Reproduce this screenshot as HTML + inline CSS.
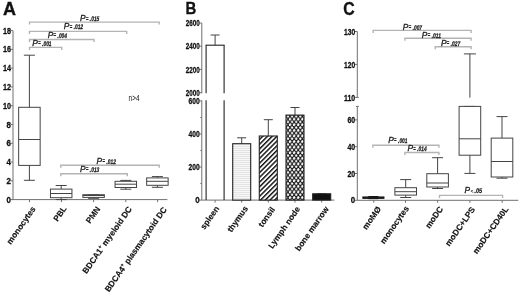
<!DOCTYPE html><html><head><meta charset="utf-8"><style>html,body{margin:0;padding:0;background:#fff;}svg{display:block;will-change:transform;}text{font-family:"Liberation Sans",sans-serif;}</style></head><body>
<svg width="520" height="293" viewBox="0 0 520 293">
<defs><pattern id="hl" patternUnits="userSpaceOnUse" width="4" height="2"><rect width="4" height="2" fill="#f7f7f7"/><rect y="0" width="4" height="0.7" fill="#dcdcdc"/></pattern><pattern id="dg" patternUnits="userSpaceOnUse" width="3.35" height="3.35" patternTransform="rotate(45)"><rect width="3.35" height="3.35" fill="#fff"/><rect width="1.45" height="3.35" fill="#111"/></pattern><pattern id="xh" patternUnits="userSpaceOnUse" width="4.1" height="5.6" patternTransform="translate(2.05,0)"><rect width="4.1" height="5.6" fill="#111"/><polygon points="1.00,-0.30 2.45,1.45 1.00,3.20 -0.45,1.45" fill="#fff"/><polygon points="5.10,-0.30 6.55,1.45 5.10,3.20 3.65,1.45" fill="#fff"/><polygon points="3.05,2.60 4.50,4.35 3.05,6.10 1.60,4.35" fill="#fff"/><polygon points="-1.05,2.60 0.40,4.35 -1.05,6.10 -2.50,4.35" fill="#fff"/><polygon points="3.05,-3.20 4.50,-1.45 3.05,0.30 1.60,-1.45" fill="#fff"/><polygon points="-1.05,-3.20 0.40,-1.45 -1.05,0.30 -2.50,-1.45" fill="#fff"/><polygon points="1.00,5.50 2.45,7.25 1.00,9.00 -0.45,7.25" fill="#fff"/><polygon points="5.10,5.50 6.55,7.25 5.10,9.00 3.65,7.25" fill="#fff"/></pattern></defs>
<text x="3" y="14.6" font-size="18" font-weight="bold" text-anchor="start" fill="#111" stroke="#111" stroke-width="0.35">A</text>
<line x1="13.0" y1="30.6" x2="13.0" y2="199.6" stroke="#707070" stroke-width="1"/>
<line x1="10.5" y1="199.6" x2="13.0" y2="199.6" stroke="#707070" stroke-width="1"/>
<text x="10.9" y="202.7" font-size="9.0" font-weight="bold" text-anchor="end" fill="#111" textLength="4.4" lengthAdjust="spacingAndGlyphs" stroke="#111" stroke-width="0.3">0</text>
<line x1="10.5" y1="180.82" x2="13.0" y2="180.82" stroke="#707070" stroke-width="1"/>
<text x="10.9" y="183.92" font-size="9.0" font-weight="bold" text-anchor="end" fill="#111" textLength="4.4" lengthAdjust="spacingAndGlyphs" stroke="#111" stroke-width="0.3">2</text>
<line x1="10.5" y1="162.04" x2="13.0" y2="162.04" stroke="#707070" stroke-width="1"/>
<text x="10.9" y="165.14" font-size="9.0" font-weight="bold" text-anchor="end" fill="#111" textLength="4.4" lengthAdjust="spacingAndGlyphs" stroke="#111" stroke-width="0.3">4</text>
<line x1="10.5" y1="143.26" x2="13.0" y2="143.26" stroke="#707070" stroke-width="1"/>
<text x="10.9" y="146.35999999999999" font-size="9.0" font-weight="bold" text-anchor="end" fill="#111" textLength="4.4" lengthAdjust="spacingAndGlyphs" stroke="#111" stroke-width="0.3">6</text>
<line x1="10.5" y1="124.48" x2="13.0" y2="124.48" stroke="#707070" stroke-width="1"/>
<text x="10.9" y="127.58" font-size="9.0" font-weight="bold" text-anchor="end" fill="#111" textLength="4.4" lengthAdjust="spacingAndGlyphs" stroke="#111" stroke-width="0.3">8</text>
<line x1="10.5" y1="105.7" x2="13.0" y2="105.7" stroke="#707070" stroke-width="1"/>
<text x="10.9" y="108.8" font-size="9.0" font-weight="bold" text-anchor="end" fill="#111" textLength="8.0" lengthAdjust="spacingAndGlyphs" stroke="#111" stroke-width="0.3">10</text>
<line x1="10.5" y1="86.92" x2="13.0" y2="86.92" stroke="#707070" stroke-width="1"/>
<text x="10.9" y="90.02" font-size="9.0" font-weight="bold" text-anchor="end" fill="#111" textLength="8.0" lengthAdjust="spacingAndGlyphs" stroke="#111" stroke-width="0.3">12</text>
<line x1="10.5" y1="68.14" x2="13.0" y2="68.14" stroke="#707070" stroke-width="1"/>
<text x="10.9" y="71.24" font-size="9.0" font-weight="bold" text-anchor="end" fill="#111" textLength="8.0" lengthAdjust="spacingAndGlyphs" stroke="#111" stroke-width="0.3">14</text>
<line x1="10.5" y1="49.36" x2="13.0" y2="49.36" stroke="#707070" stroke-width="1"/>
<text x="10.9" y="52.46" font-size="9.0" font-weight="bold" text-anchor="end" fill="#111" textLength="8.0" lengthAdjust="spacingAndGlyphs" stroke="#111" stroke-width="0.3">16</text>
<line x1="10.5" y1="30.58" x2="13.0" y2="30.58" stroke="#707070" stroke-width="1"/>
<text x="10.9" y="33.68" font-size="9.0" font-weight="bold" text-anchor="end" fill="#111" textLength="8.0" lengthAdjust="spacingAndGlyphs" stroke="#111" stroke-width="0.3">18</text>
<line x1="13.0" y1="199.6" x2="167.4" y2="199.6" stroke="#707070" stroke-width="1"/>
<line x1="29.5" y1="199.6" x2="29.5" y2="202.1" stroke="#707070" stroke-width="1"/>
<line x1="61.5" y1="199.6" x2="61.5" y2="202.1" stroke="#707070" stroke-width="1"/>
<line x1="93.6" y1="199.6" x2="93.6" y2="202.1" stroke="#707070" stroke-width="1"/>
<line x1="125.8" y1="199.6" x2="125.8" y2="202.1" stroke="#707070" stroke-width="1"/>
<line x1="157.6" y1="199.6" x2="157.6" y2="202.1" stroke="#707070" stroke-width="1"/>
<line x1="29.4" y1="55.2" x2="29.4" y2="107.3" stroke="#444" stroke-width="1"/>
<line x1="23.9" y1="55.2" x2="34.9" y2="55.2" stroke="#444" stroke-width="1"/>
<line x1="29.4" y1="165.4" x2="29.4" y2="180.3" stroke="#444" stroke-width="1"/>
<line x1="23.9" y1="180.3" x2="34.9" y2="180.3" stroke="#444" stroke-width="1"/>
<rect x="18.65" y="107.3" width="21.5" height="58.10000000000001" fill="#fff" stroke="#444" stroke-width="1"/>
<line x1="18.65" y1="139.5" x2="40.15" y2="139.5" stroke="#444" stroke-width="1"/>
<line x1="61.2" y1="185.5" x2="61.2" y2="189.1" stroke="#444" stroke-width="1"/>
<line x1="55.7" y1="185.5" x2="66.7" y2="185.5" stroke="#444" stroke-width="1"/>
<line x1="61.2" y1="197.7" x2="61.2" y2="199.6" stroke="#444" stroke-width="1"/>
<line x1="55.7" y1="199.6" x2="66.7" y2="199.6" stroke="#444" stroke-width="1"/>
<rect x="50.45" y="189.1" width="21.5" height="8.599999999999994" fill="#fff" stroke="#444" stroke-width="1"/>
<line x1="50.45" y1="193.5" x2="71.95" y2="193.5" stroke="#444" stroke-width="1"/>
<line x1="93.6" y1="194.7" x2="93.6" y2="194.7" stroke="#444" stroke-width="1"/>
<line x1="88.1" y1="194.7" x2="99.1" y2="194.7" stroke="#444" stroke-width="1"/>
<line x1="93.6" y1="197.4" x2="93.6" y2="198.3" stroke="#444" stroke-width="1"/>
<line x1="88.1" y1="198.3" x2="99.1" y2="198.3" stroke="#444" stroke-width="1"/>
<rect x="82.85" y="194.7" width="21.5" height="2.700000000000017" fill="#fff" stroke="#444" stroke-width="1"/>
<line x1="82.85" y1="195.5" x2="104.35" y2="195.5" stroke="#444" stroke-width="1"/>
<line x1="125.8" y1="180.4" x2="125.8" y2="181.3" stroke="#444" stroke-width="1"/>
<line x1="120.3" y1="180.4" x2="131.3" y2="180.4" stroke="#444" stroke-width="1"/>
<line x1="125.8" y1="187.5" x2="125.8" y2="189.2" stroke="#444" stroke-width="1"/>
<line x1="120.3" y1="189.2" x2="131.3" y2="189.2" stroke="#444" stroke-width="1"/>
<rect x="115.05" y="181.3" width="21.5" height="6.199999999999989" fill="#fff" stroke="#444" stroke-width="1"/>
<line x1="115.05" y1="184.2" x2="136.55" y2="184.2" stroke="#444" stroke-width="1"/>
<line x1="157.4" y1="176.6" x2="157.4" y2="177.9" stroke="#444" stroke-width="1"/>
<line x1="151.9" y1="176.6" x2="162.9" y2="176.6" stroke="#444" stroke-width="1"/>
<line x1="157.4" y1="185.3" x2="157.4" y2="187.3" stroke="#444" stroke-width="1"/>
<line x1="151.9" y1="187.3" x2="162.9" y2="187.3" stroke="#444" stroke-width="1"/>
<rect x="146.65" y="177.9" width="21.5" height="7.400000000000006" fill="#fff" stroke="#444" stroke-width="1"/>
<line x1="146.65" y1="181.3" x2="168.15" y2="181.3" stroke="#444" stroke-width="1"/>
<polyline points="29.5,24.6 29.5,22.1 159.2,22.1 159.2,24.6" fill="none" stroke="#b4b4b4" stroke-width="1.4"/>
<polyline points="29.5,33.9 29.5,31.4 126.7,31.4 126.7,33.9" fill="none" stroke="#b4b4b4" stroke-width="1.4"/>
<polyline points="29.5,42.0 29.5,39.5 94.0,39.5 94.0,42.0" fill="none" stroke="#b4b4b4" stroke-width="1.4"/>
<polyline points="29.5,49.9 29.5,47.4 61.8,47.4 61.8,49.9" fill="none" stroke="#b4b4b4" stroke-width="1.4"/>
<polyline points="60.8,167.8 60.8,165.3 159.2,165.3 159.2,167.8" fill="none" stroke="#b4b4b4" stroke-width="1.4"/>
<polyline points="60.8,176.3 60.8,173.8 127.3,173.8 127.3,176.3" fill="none" stroke="#b4b4b4" stroke-width="1.4"/>
<text x="80.0" y="21.1" fill="#1a1a1a" stroke="#1a1a1a" stroke-width="0.3"><tspan font-size="8.3" font-style="italic">P</tspan></text>
<text x="85.9" y="20.6" fill="#222" font-size="7.0" font-weight="bold" stroke="#222" stroke-width="0.2" textLength="2.5" lengthAdjust="spacingAndGlyphs">=</text>
<text x="0" y="0" transform="translate(89.60,21.10) skewX(-8)" fill="#1a1a1a" stroke="#1a1a1a" stroke-width="0.25" font-size="6.7" font-weight="bold" textLength="9.4" lengthAdjust="spacingAndGlyphs">.015</text>
<text x="63.8" y="29.3" fill="#1a1a1a" stroke="#1a1a1a" stroke-width="0.3"><tspan font-size="8.3" font-style="italic">P</tspan></text>
<text x="69.7" y="28.8" fill="#222" font-size="7.0" font-weight="bold" stroke="#222" stroke-width="0.2" textLength="2.5" lengthAdjust="spacingAndGlyphs">=</text>
<text x="0" y="0" transform="translate(73.40,29.30) skewX(-8)" fill="#1a1a1a" stroke="#1a1a1a" stroke-width="0.25" font-size="6.7" font-weight="bold" textLength="9.4" lengthAdjust="spacingAndGlyphs">.012</text>
<text x="47.7" y="37.800000000000004" fill="#1a1a1a" stroke="#1a1a1a" stroke-width="0.3"><tspan font-size="8.3" font-style="italic">P</tspan></text>
<text x="53.6" y="37.300000000000004" fill="#222" font-size="7.0" font-weight="bold" stroke="#222" stroke-width="0.2" textLength="2.5" lengthAdjust="spacingAndGlyphs">=</text>
<text x="0" y="0" transform="translate(57.30,37.80) skewX(-8)" fill="#1a1a1a" stroke="#1a1a1a" stroke-width="0.25" font-size="6.7" font-weight="bold" textLength="9.4" lengthAdjust="spacingAndGlyphs">.004</text>
<text x="32.3" y="45.5" fill="#1a1a1a" stroke="#1a1a1a" stroke-width="0.3"><tspan font-size="8.3" font-style="italic">P</tspan></text>
<text x="38.199999999999996" y="45.0" fill="#222" font-size="7.0" font-weight="bold" stroke="#222" stroke-width="0.2" textLength="2.5" lengthAdjust="spacingAndGlyphs">=</text>
<text x="0" y="0" transform="translate(41.90,45.50) skewX(-8)" fill="#1a1a1a" stroke="#1a1a1a" stroke-width="0.25" font-size="6.7" font-weight="bold" textLength="9.4" lengthAdjust="spacingAndGlyphs">.001</text>
<text x="96.6" y="163.6" fill="#1a1a1a" stroke="#1a1a1a" stroke-width="0.3"><tspan font-size="8.3" font-style="italic">P</tspan></text>
<text x="102.5" y="163.1" fill="#222" font-size="7.0" font-weight="bold" stroke="#222" stroke-width="0.2" textLength="2.5" lengthAdjust="spacingAndGlyphs">=</text>
<text x="0" y="0" transform="translate(106.20,163.60) skewX(-8)" fill="#1a1a1a" stroke="#1a1a1a" stroke-width="0.25" font-size="6.7" font-weight="bold" textLength="9.4" lengthAdjust="spacingAndGlyphs">.012</text>
<text x="80.0" y="171.9" fill="#1a1a1a" stroke="#1a1a1a" stroke-width="0.3"><tspan font-size="8.3" font-style="italic">P</tspan></text>
<text x="85.9" y="171.4" fill="#222" font-size="7.0" font-weight="bold" stroke="#222" stroke-width="0.2" textLength="2.5" lengthAdjust="spacingAndGlyphs">=</text>
<text x="0" y="0" transform="translate(89.60,171.90) skewX(-8)" fill="#1a1a1a" stroke="#1a1a1a" stroke-width="0.25" font-size="6.7" font-weight="bold" textLength="9.4" lengthAdjust="spacingAndGlyphs">.013</text>
<text x="128.6" y="101.0" font-size="9.0" font-weight="normal" text-anchor="start" fill="#111" textLength="10.9" lengthAdjust="spacingAndGlyphs">n&gt;4</text>
<text x="36.0" y="209.0" font-size="8.3" font-weight="bold" text-anchor="end" fill="#111" transform="rotate(-55 36.0 209.0)" stroke="#111" stroke-width="0.15">monocytes</text>
<text x="67.0" y="208.5" font-size="8.3" font-weight="bold" text-anchor="end" fill="#111" transform="rotate(-55 67.0 208.5)" stroke="#111" stroke-width="0.15">PBL</text>
<text x="100.6" y="209.0" font-size="8.3" font-weight="bold" text-anchor="end" fill="#111" transform="rotate(-55 100.6 209.0)" stroke="#111" stroke-width="0.15">PMN</text>
<text x="132.3" y="209.0" font-size="8.3" font-weight="bold" text-anchor="end" fill="#111" transform="rotate(-55 132.3 209.0)" stroke="#111" stroke-width="0.15">BDCA1<tspan font-size="5.5" dy="-3">+</tspan><tspan dy="3"> myeloid DC</tspan></text>
<text x="167.1" y="209.5" font-size="8.3" font-weight="bold" text-anchor="end" fill="#111" transform="rotate(-55 167.1 209.5)" stroke="#111" stroke-width="0.15">BDCA4<tspan font-size="5.5" dy="-3">+</tspan><tspan dy="3"> plasmacytoid DC</tspan></text>
<text x="185.6" y="14.1" font-size="17.4" font-weight="bold" text-anchor="start" fill="#111" textLength="10.8" lengthAdjust="spacingAndGlyphs" stroke="#111" stroke-width="0.35">B</text>
<line x1="201.8" y1="23.0" x2="201.8" y2="93.4" stroke="#707070" stroke-width="1"/>
<line x1="199.3" y1="23.0" x2="201.8" y2="23.0" stroke="#707070" stroke-width="1"/>
<text x="199.70000000000002" y="26.1" font-size="9.0" font-weight="bold" text-anchor="end" fill="#111" textLength="14.0" lengthAdjust="spacingAndGlyphs" stroke="#111" stroke-width="0.3">2600</text>
<line x1="199.3" y1="46.2" x2="201.8" y2="46.2" stroke="#707070" stroke-width="1"/>
<text x="199.70000000000002" y="49.300000000000004" font-size="9.0" font-weight="bold" text-anchor="end" fill="#111" textLength="14.0" lengthAdjust="spacingAndGlyphs" stroke="#111" stroke-width="0.3">2400</text>
<line x1="199.3" y1="69.4" x2="201.8" y2="69.4" stroke="#707070" stroke-width="1"/>
<text x="199.70000000000002" y="72.5" font-size="9.0" font-weight="bold" text-anchor="end" fill="#111" textLength="14.0" lengthAdjust="spacingAndGlyphs" stroke="#111" stroke-width="0.3">2200</text>
<line x1="199.3" y1="92.7" x2="201.8" y2="92.7" stroke="#707070" stroke-width="1"/>
<text x="199.70000000000002" y="95.8" font-size="9.0" font-weight="bold" text-anchor="end" fill="#111" textLength="14.0" lengthAdjust="spacingAndGlyphs" stroke="#111" stroke-width="0.3">2000</text>
<line x1="201.8" y1="100.3" x2="201.8" y2="200.1" stroke="#707070" stroke-width="1"/>
<line x1="199.3" y1="200.1" x2="201.8" y2="200.1" stroke="#707070" stroke-width="1"/>
<text x="199.70000000000002" y="203.2" font-size="9.0" font-weight="bold" text-anchor="end" fill="#111" textLength="4.4" lengthAdjust="spacingAndGlyphs" stroke="#111" stroke-width="0.3">0</text>
<line x1="200.3" y1="183.58" x2="201.8" y2="183.58" stroke="#707070" stroke-width="1"/>
<line x1="199.3" y1="167.06" x2="201.8" y2="167.06" stroke="#707070" stroke-width="1"/>
<text x="199.70000000000002" y="170.16" font-size="9.0" font-weight="bold" text-anchor="end" fill="#111" textLength="11.2" lengthAdjust="spacingAndGlyphs" stroke="#111" stroke-width="0.3">200</text>
<line x1="200.3" y1="150.54" x2="201.8" y2="150.54" stroke="#707070" stroke-width="1"/>
<line x1="199.3" y1="134.02" x2="201.8" y2="134.02" stroke="#707070" stroke-width="1"/>
<text x="199.70000000000002" y="137.12" font-size="9.0" font-weight="bold" text-anchor="end" fill="#111" textLength="11.2" lengthAdjust="spacingAndGlyphs" stroke="#111" stroke-width="0.3">400</text>
<line x1="200.3" y1="117.5" x2="201.8" y2="117.5" stroke="#707070" stroke-width="1"/>
<line x1="199.3" y1="100.98" x2="201.8" y2="100.98" stroke="#707070" stroke-width="1"/>
<text x="199.70000000000002" y="104.08" font-size="9.0" font-weight="bold" text-anchor="end" fill="#111" textLength="11.2" lengthAdjust="spacingAndGlyphs" stroke="#111" stroke-width="0.3">600</text>
<line x1="201.8" y1="200.1" x2="334.4" y2="200.1" stroke="#707070" stroke-width="1"/>
<line x1="215.1" y1="200.1" x2="215.1" y2="202.6" stroke="#707070" stroke-width="1"/>
<line x1="241.7" y1="200.1" x2="241.7" y2="202.6" stroke="#707070" stroke-width="1"/>
<line x1="268.3" y1="200.1" x2="268.3" y2="202.6" stroke="#707070" stroke-width="1"/>
<line x1="295.0" y1="200.1" x2="295.0" y2="202.6" stroke="#707070" stroke-width="1"/>
<line x1="321.7" y1="200.1" x2="321.7" y2="202.6" stroke="#707070" stroke-width="1"/>
<rect x="206.1" y="45.2" width="18.0" height="48" fill="#fff" stroke="none"/>
<line x1="205.54999999999998" y1="45.2" x2="224.65" y2="45.2" stroke="#222" stroke-width="1.1"/>
<line x1="206.1" y1="45.2" x2="206.1" y2="93.2" stroke="#222" stroke-width="1.1"/>
<line x1="224.1" y1="45.2" x2="224.1" y2="93.2" stroke="#222" stroke-width="1.1"/>
<line x1="206.1" y1="100.3" x2="206.1" y2="200.1" stroke="#222" stroke-width="1.1"/>
<line x1="224.1" y1="100.3" x2="224.1" y2="200.1" stroke="#222" stroke-width="1.1"/>
<line x1="215.1" y1="35.0" x2="215.1" y2="45.2" stroke="#444" stroke-width="1"/>
<line x1="210.6" y1="35.0" x2="219.6" y2="35.0" stroke="#444" stroke-width="1"/>
<line x1="241.7" y1="137.8" x2="241.7" y2="143.7" stroke="#444" stroke-width="1"/>
<line x1="237.2" y1="137.8" x2="246.2" y2="137.8" stroke="#444" stroke-width="1"/>
<rect x="232.7" y="143.7" width="18.0" height="56.400000000000006" fill="url(#hl)" stroke="#222" stroke-width="1.1"/>
<line x1="268.3" y1="119.7" x2="268.3" y2="136.0" stroke="#444" stroke-width="1"/>
<line x1="263.8" y1="119.7" x2="272.8" y2="119.7" stroke="#444" stroke-width="1"/>
<rect x="259.3" y="136.0" width="18.0" height="64.1" fill="url(#dg)" stroke="#222" stroke-width="1.1"/>
<line x1="295.0" y1="107.5" x2="295.0" y2="115.1" stroke="#444" stroke-width="1"/>
<line x1="290.5" y1="107.5" x2="299.5" y2="107.5" stroke="#444" stroke-width="1"/>
<rect x="286.0" y="115.1" width="18.0" height="85.0" fill="url(#xh)" stroke="#222" stroke-width="1.1"/>
<line x1="321.7" y1="193.8" x2="321.7" y2="193.8" stroke="#444" stroke-width="1"/>
<line x1="317.2" y1="193.8" x2="326.2" y2="193.8" stroke="#444" stroke-width="1"/>
<rect x="312.7" y="193.8" width="18.0" height="6.299999999999983" fill="#111" stroke="#222" stroke-width="1.1"/>
<text x="219.6" y="208.5" font-size="8.3" font-weight="bold" text-anchor="end" fill="#111" transform="rotate(-55 219.6 208.5)" stroke="#111" stroke-width="0.15">spleen</text>
<text x="248.39999999999998" y="208.5" font-size="8.3" font-weight="bold" text-anchor="end" fill="#111" transform="rotate(-55 248.39999999999998 208.5)" stroke="#111" stroke-width="0.15">thymus</text>
<text x="275.3" y="209.5" font-size="8.3" font-weight="bold" text-anchor="end" fill="#111" transform="rotate(-55 275.3 209.5)" stroke="#111" stroke-width="0.15">tonsil</text>
<text x="300.5" y="209.0" font-size="8.3" font-weight="bold" text-anchor="end" fill="#111" transform="rotate(-55 300.5 209.0)" stroke="#111" stroke-width="0.15">Lymph node</text>
<text x="329.2" y="209.0" font-size="8.3" font-weight="bold" text-anchor="end" fill="#111" transform="rotate(-55 329.2 209.0)" stroke="#111" stroke-width="0.15">bone marrow</text>
<text x="343.2" y="14.6" font-size="18" font-weight="bold" text-anchor="start" fill="#111" textLength="11.4" lengthAdjust="spacingAndGlyphs" stroke="#111" stroke-width="0.35">C</text>
<line x1="357.3" y1="31.5" x2="357.3" y2="97.4" stroke="#707070" stroke-width="1"/>
<line x1="354.8" y1="31.5" x2="357.3" y2="31.5" stroke="#707070" stroke-width="1"/>
<text x="355.2" y="34.6" font-size="9.0" font-weight="bold" text-anchor="end" fill="#111" textLength="11.2" lengthAdjust="spacingAndGlyphs" stroke="#111" stroke-width="0.3">130</text>
<line x1="354.8" y1="64.4" x2="357.3" y2="64.4" stroke="#707070" stroke-width="1"/>
<text x="355.2" y="67.5" font-size="9.0" font-weight="bold" text-anchor="end" fill="#111" textLength="11.2" lengthAdjust="spacingAndGlyphs" stroke="#111" stroke-width="0.3">120</text>
<line x1="354.8" y1="97.4" x2="357.3" y2="97.4" stroke="#707070" stroke-width="1"/>
<text x="355.2" y="100.5" font-size="9.0" font-weight="bold" text-anchor="end" fill="#111" textLength="11.2" lengthAdjust="spacingAndGlyphs" stroke="#111" stroke-width="0.3">110</text>
<line x1="357.3" y1="106.4" x2="357.3" y2="200.3" stroke="#707070" stroke-width="1"/>
<line x1="355.90000000000003" y1="106.4" x2="358.90000000000003" y2="106.4" stroke="#707070" stroke-width="1"/>
<line x1="357.3" y1="97.4" x2="358.8" y2="97.4" stroke="#707070" stroke-width="1"/>
<line x1="354.8" y1="200.3" x2="357.3" y2="200.3" stroke="#707070" stroke-width="1"/>
<text x="355.2" y="203.4" font-size="9.0" font-weight="bold" text-anchor="end" fill="#111" textLength="4.4" lengthAdjust="spacingAndGlyphs" stroke="#111" stroke-width="0.3">0</text>
<line x1="354.8" y1="173.5" x2="357.3" y2="173.5" stroke="#707070" stroke-width="1"/>
<text x="355.2" y="176.6" font-size="9.0" font-weight="bold" text-anchor="end" fill="#111" textLength="7.8" lengthAdjust="spacingAndGlyphs" stroke="#111" stroke-width="0.3">20</text>
<line x1="354.8" y1="146.7" x2="357.3" y2="146.7" stroke="#707070" stroke-width="1"/>
<text x="355.2" y="149.79999999999998" font-size="9.0" font-weight="bold" text-anchor="end" fill="#111" textLength="7.8" lengthAdjust="spacingAndGlyphs" stroke="#111" stroke-width="0.3">40</text>
<line x1="354.8" y1="119.9" x2="357.3" y2="119.9" stroke="#707070" stroke-width="1"/>
<text x="355.2" y="123.0" font-size="9.0" font-weight="bold" text-anchor="end" fill="#111" textLength="7.8" lengthAdjust="spacingAndGlyphs" stroke="#111" stroke-width="0.3">60</text>
<line x1="357.3" y1="200.3" x2="518.3" y2="200.3" stroke="#707070" stroke-width="1"/>
<line x1="373.8" y1="200.3" x2="373.8" y2="202.8" stroke="#707070" stroke-width="1"/>
<line x1="405.5" y1="200.3" x2="405.5" y2="202.8" stroke="#707070" stroke-width="1"/>
<line x1="437.6" y1="200.3" x2="437.6" y2="202.8" stroke="#707070" stroke-width="1"/>
<line x1="469.9" y1="200.3" x2="469.9" y2="202.8" stroke="#707070" stroke-width="1"/>
<line x1="502.2" y1="200.3" x2="502.2" y2="202.8" stroke="#707070" stroke-width="1"/>
<line x1="373.4" y1="196.6" x2="373.4" y2="197.0" stroke="#111" stroke-width="1.1"/>
<line x1="368.4" y1="196.6" x2="378.4" y2="196.6" stroke="#111" stroke-width="1.1"/>
<line x1="373.4" y1="198.3" x2="373.4" y2="198.6" stroke="#111" stroke-width="1.1"/>
<line x1="368.4" y1="198.6" x2="378.4" y2="198.6" stroke="#111" stroke-width="1.1"/>
<rect x="362.9" y="197.0" width="21.0" height="1.3000000000000114" fill="#fff" stroke="#111" stroke-width="1.1"/>
<line x1="362.9" y1="197.7" x2="383.9" y2="197.7" stroke="#111" stroke-width="1.1"/>
<line x1="405.7" y1="179.6" x2="405.7" y2="187.7" stroke="#444" stroke-width="1"/>
<line x1="400.2" y1="179.6" x2="411.2" y2="179.6" stroke="#444" stroke-width="1"/>
<line x1="405.7" y1="195.1" x2="405.7" y2="197.5" stroke="#444" stroke-width="1"/>
<line x1="400.2" y1="197.5" x2="411.2" y2="197.5" stroke="#444" stroke-width="1"/>
<rect x="394.9" y="187.7" width="21.6" height="7.400000000000006" fill="#fff" stroke="#444" stroke-width="1"/>
<line x1="394.9" y1="191.7" x2="416.5" y2="191.7" stroke="#444" stroke-width="1"/>
<line x1="437.6" y1="157.7" x2="437.6" y2="173.7" stroke="#444" stroke-width="1"/>
<line x1="432.1" y1="157.7" x2="443.1" y2="157.7" stroke="#444" stroke-width="1"/>
<line x1="437.6" y1="187.0" x2="437.6" y2="188.5" stroke="#444" stroke-width="1"/>
<line x1="432.1" y1="188.5" x2="443.1" y2="188.5" stroke="#444" stroke-width="1"/>
<rect x="426.8" y="173.7" width="21.6" height="13.300000000000011" fill="#fff" stroke="#444" stroke-width="1"/>
<line x1="426.8" y1="183.0" x2="448.40000000000003" y2="183.0" stroke="#444" stroke-width="1"/>
<line x1="469.9" y1="53.9" x2="469.9" y2="97.6" stroke="#444" stroke-width="1"/>
<line x1="463.9" y1="53.9" x2="475.9" y2="53.9" stroke="#444" stroke-width="1"/>
<line x1="469.9" y1="106.4" x2="469.9" y2="106.4" stroke="#444" stroke-width="1"/>
<line x1="464.4" y1="106.4" x2="475.4" y2="106.4" stroke="#444" stroke-width="1"/>
<line x1="469.9" y1="155.2" x2="469.9" y2="173.4" stroke="#444" stroke-width="1"/>
<line x1="464.4" y1="173.4" x2="475.4" y2="173.4" stroke="#444" stroke-width="1"/>
<rect x="459.09999999999997" y="106.4" width="21.6" height="48.79999999999998" fill="#fff" stroke="#444" stroke-width="1"/>
<line x1="459.09999999999997" y1="138.8" x2="480.7" y2="138.8" stroke="#444" stroke-width="1"/>
<line x1="502.0" y1="116.6" x2="502.0" y2="138.1" stroke="#444" stroke-width="1"/>
<line x1="496.5" y1="116.6" x2="507.5" y2="116.6" stroke="#444" stroke-width="1"/>
<line x1="502.0" y1="177.0" x2="502.0" y2="178.2" stroke="#444" stroke-width="1"/>
<line x1="496.5" y1="178.2" x2="507.5" y2="178.2" stroke="#444" stroke-width="1"/>
<rect x="491.2" y="138.1" width="21.6" height="38.900000000000006" fill="#fff" stroke="#444" stroke-width="1"/>
<line x1="491.2" y1="161.5" x2="512.8" y2="161.5" stroke="#444" stroke-width="1"/>
<polyline points="373.2,32.9 373.2,30.4 471.1,30.4 471.1,32.9" fill="none" stroke="#b4b4b4" stroke-width="1.4"/>
<polyline points="404.9,40.8 404.9,38.3 471.1,38.3 471.1,40.8" fill="none" stroke="#b4b4b4" stroke-width="1.4"/>
<polyline points="435.2,49.2 435.2,46.7 471.1,46.7 471.1,49.2" fill="none" stroke="#b4b4b4" stroke-width="1.4"/>
<polyline points="372.9,147.8 372.9,145.3 438.9,145.3 438.9,147.8" fill="none" stroke="#b4b4b4" stroke-width="1.4"/>
<polyline points="404.9,155.0 404.9,152.5 438.9,152.5 438.9,155.0" fill="none" stroke="#b4b4b4" stroke-width="1.4"/>
<polyline points="439.5,197.9 439.5,195.4 502.6,195.4 502.6,197.9" fill="none" stroke="#b4b4b4" stroke-width="1.4"/>
<text x="402.8" y="29.5" fill="#1a1a1a" stroke="#1a1a1a" stroke-width="0.3"><tspan font-size="8.3" font-style="italic">P</tspan></text>
<text x="408.7" y="29.0" fill="#222" font-size="7.0" font-weight="bold" stroke="#222" stroke-width="0.2" textLength="2.5" lengthAdjust="spacingAndGlyphs">=</text>
<text x="0" y="0" transform="translate(412.40,29.50) skewX(-8)" fill="#1a1a1a" stroke="#1a1a1a" stroke-width="0.25" font-size="6.7" font-weight="bold" textLength="9.4" lengthAdjust="spacingAndGlyphs">.007</text>
<text x="421.8" y="37.7" fill="#1a1a1a" stroke="#1a1a1a" stroke-width="0.3"><tspan font-size="8.3" font-style="italic">P</tspan></text>
<text x="427.7" y="37.2" fill="#222" font-size="7.0" font-weight="bold" stroke="#222" stroke-width="0.2" textLength="2.5" lengthAdjust="spacingAndGlyphs">=</text>
<text x="0" y="0" transform="translate(431.40,37.70) skewX(-8)" fill="#1a1a1a" stroke="#1a1a1a" stroke-width="0.25" font-size="6.7" font-weight="bold" textLength="9.4" lengthAdjust="spacingAndGlyphs">.011</text>
<text x="440.9" y="45.800000000000004" fill="#1a1a1a" stroke="#1a1a1a" stroke-width="0.3"><tspan font-size="8.3" font-style="italic">P</tspan></text>
<text x="446.79999999999995" y="45.300000000000004" fill="#222" font-size="7.0" font-weight="bold" stroke="#222" stroke-width="0.2" textLength="2.5" lengthAdjust="spacingAndGlyphs">=</text>
<text x="0" y="0" transform="translate(450.50,45.80) skewX(-8)" fill="#1a1a1a" stroke="#1a1a1a" stroke-width="0.25" font-size="6.7" font-weight="bold" textLength="9.4" lengthAdjust="spacingAndGlyphs">.027</text>
<text x="388.2" y="142.9" fill="#1a1a1a" stroke="#1a1a1a" stroke-width="0.3"><tspan font-size="8.3" font-style="italic">P</tspan></text>
<text x="394.09999999999997" y="142.4" fill="#222" font-size="7.0" font-weight="bold" stroke="#222" stroke-width="0.2" textLength="2.5" lengthAdjust="spacingAndGlyphs">=</text>
<text x="0" y="0" transform="translate(397.80,142.90) skewX(-8)" fill="#1a1a1a" stroke="#1a1a1a" stroke-width="0.25" font-size="6.7" font-weight="bold" textLength="9.4" lengthAdjust="spacingAndGlyphs">.001</text>
<text x="407.4" y="151.1" fill="#1a1a1a" stroke="#1a1a1a" stroke-width="0.3"><tspan font-size="8.3" font-style="italic">P</tspan></text>
<text x="413.29999999999995" y="150.6" fill="#222" font-size="7.0" font-weight="bold" stroke="#222" stroke-width="0.2" textLength="2.5" lengthAdjust="spacingAndGlyphs">=</text>
<text x="0" y="0" transform="translate(417.00,151.10) skewX(-8)" fill="#1a1a1a" stroke="#1a1a1a" stroke-width="0.25" font-size="6.7" font-weight="bold" textLength="9.4" lengthAdjust="spacingAndGlyphs">.014</text>
<text x="464.6" y="193.1" fill="#1a1a1a" stroke="#1a1a1a" stroke-width="0.3"><tspan font-size="8.3" font-style="italic">P</tspan></text>
<text x="470.40000000000003" y="192.79999999999998" fill="#222" font-size="5.6" font-weight="bold" textLength="3.0" lengthAdjust="spacingAndGlyphs">&lt;</text>
<text x="0" y="0" transform="translate(474.20,193.10) skewX(-8)" fill="#1a1a1a" stroke="#1a1a1a" stroke-width="0.25" font-size="6.7" font-weight="bold" textLength="7.6" lengthAdjust="spacingAndGlyphs">.05</text>
<text x="381.40000000000003" y="209.0" font-size="8.3" font-weight="bold" text-anchor="end" fill="#111" transform="rotate(-55 381.40000000000003 209.0)" stroke="#111" stroke-width="0.15">moM&#216;</text>
<text x="409.3" y="208.5" font-size="8.3" font-weight="bold" text-anchor="end" fill="#111" transform="rotate(-55 409.3 208.5)" stroke="#111" stroke-width="0.15">monocytes</text>
<text x="443.40000000000003" y="209.0" font-size="8.3" font-weight="bold" text-anchor="end" fill="#111" transform="rotate(-55 443.40000000000003 209.0)" stroke="#111" stroke-width="0.15">moDC</text>
<text x="475.4" y="209.5" font-size="8.3" font-weight="bold" text-anchor="end" fill="#111" transform="rotate(-55 475.4 209.5)" stroke="#111" stroke-width="0.15">moDC+LPS</text>
<text x="508.8" y="209.0" font-size="8.3" font-weight="bold" text-anchor="end" fill="#111" transform="rotate(-55 508.8 209.0)" stroke="#111" stroke-width="0.15">moDC+CD40L</text>
</svg></body></html>
